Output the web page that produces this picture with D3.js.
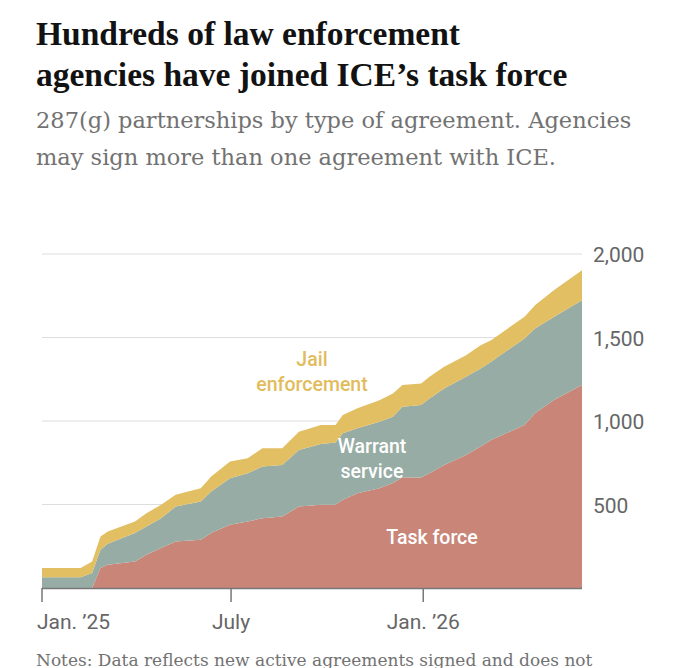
<!DOCTYPE html>
<html><head><meta charset="utf-8">
<script src="https://cdn.jsdelivr.net/npm/d3@7"></script>
<style>body{margin:0;background:#fff;overflow:hidden}</style>
</head><body><svg id="c" width="680" height="668"></svg>
<script>
const dates=["2025-01-01","2025-02-07","2025-02-18","2025-02-26","2025-03-05","2025-03-31","2025-04-11","2025-04-25","2025-05-09","2025-06-02","2025-06-12","2025-06-30","2025-07-17","2025-07-31","2025-08-19","2025-09-04","2025-09-25","2025-10-09","2025-10-16","2025-10-30","2025-11-20","2025-12-03","2025-12-12","2025-12-30","2026-01-07","2026-01-21","2026-02-11","2026-02-25","2026-03-07","2026-04-08","2026-04-18","2026-05-06","2026-06-02"];
const taskForce=[0,0,0,120,139,159,199,239,279,289,329,378,398,418,428,488,498,498,528,568,598,628,661,661,687,737,797,847,886,976,1046,1126,1215];
const warrantService=[64,64,90,109,126,170,170,179,209,229,249,279,289,309,309,339,365,373,398,388,398,398,425,435,448,458,468,468,469,518,508,497,508];
const jailEnforcement=[56,56,69,80,74,69,79,80,70,80,89,100,90,110,100,109,113,105,110,120,129,139,129,129,130,130,129,139,129,130,139,160,179];
const yTicks=[500,1000,1500,2000];
const xTicks=[["2025-01-01","Jan. ’25"],["2025-07-01","July"],["2026-01-01","Jan. ’26"]];
const keys=["task","warrant","jail"];
const colors={task:"#c98577",warrant:"#97aca4",jail:"#e2bf62"};

const svg=d3.select("#c");
const parse=d3.utcParse("%Y-%m-%d");
const data=dates.map((d,i)=>({date:parse(d),task:taskForce[i],warrant:warrantService[i],jail:jailEnforcement[i]}));
const x=d3.scaleUtc().domain([parse("2025-01-01"),parse("2026-06-02")]).range([42,582]);
const y=d3.scaleLinear().domain([0,2000]).range([588,254]);

svg.append("text").attr("x",36).attr("y",45).attr("font-family","Liberation Serif").attr("font-weight","bold").attr("font-size",33.5).attr("fill","#121212").text("Hundreds of law enforcement");
svg.append("text").attr("x",36).attr("y",86).attr("font-family","Liberation Serif").attr("font-weight","bold").attr("font-size",33.5).attr("fill","#121212").text("agencies have joined ICE’s task force");
const sub=["287(g) partnerships by type of agreement. Agencies","may sign more than one agreement with ICE."];
sub.forEach((s,i)=>svg.append("text").attr("x",36).attr("y",128+i*37).attr("font-family","DejaVu Serif").attr("font-size",22.5).attr("fill","#727272").text(s));

yTicks.forEach(t=>{
  svg.append("line").attr("x1",42).attr("x2",582).attr("y1",y(t)).attr("y2",y(t)).attr("stroke","#dedede").attr("stroke-width",1.2);
  svg.append("text").attr("x",593).attr("y",y(t)+8).attr("font-family","Roboto").attr("font-size",21).attr("fill","#666").text(d3.format(",")(t));
});

const stack=d3.stack().keys(keys)(data);
const area=d3.area().x(d=>x(d.data.date)).y0(d=>y(d[0])).y1(d=>y(d[1]));
svg.selectAll("path.a").data(stack).join("path").attr("d",area).attr("fill",d=>colors[d.key]);

svg.append("line").attr("x1",42).attr("x2",582).attr("y1",588.5).attr("y2",588.5).attr("stroke","#777").attr("stroke-width",1.5);
xTicks.forEach(([d,l],i)=>{
  const xx=x(parse(d));
  svg.append("line").attr("x1",xx).attr("x2",xx).attr("y1",588).attr("y2",602).attr("stroke","#777").attr("stroke-width",1.5);
  svg.append("text").attr("x",i===0?37:xx).attr("y",629).attr("text-anchor",i===0?"start":"middle").attr("font-family","Roboto").attr("font-size",21).attr("fill","#666").text(l);
});

function lbl(lines,cx,y0,col){lines.forEach((s,i)=>svg.append("text").attr("x",cx).attr("y",y0+i*25).attr("text-anchor","middle").attr("font-family","Roboto").attr("font-weight",500).attr("font-size",19.5).attr("fill",col).text(s));}
lbl(["Jail","enforcement"],312,366,"#e2bc5c");
lbl(["Warrant","service"],372,453,"#fff");
lbl(["Task force"],432,544,"#fff");

svg.append("text").attr("x",36).attr("y",666).attr("font-family","DejaVu Serif").attr("font-size",17).attr("fill","#727272").text("Notes: Data reflects new active agreements signed and does not");
</script></body></html>
